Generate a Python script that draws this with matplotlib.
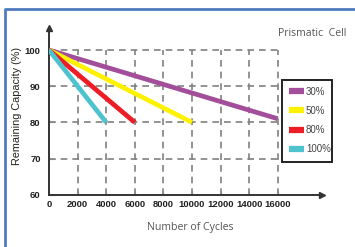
import numpy as np
import matplotlib
matplotlib.use("Agg")
import matplotlib.pyplot as plt
from matplotlib.lines import Line2D
from matplotlib.patches import Rectangle

# discharge depth series: start and end points (cycles, capacity %)
labels = ["30%", "50%", "80%", "100%"]
end_cycles = [16000, 10000, 6000, 4000]
end_capacity = [81, 80, 80, 80]
start_capacity = 100
colors = ["#a34e9a", "#fff200", "#ee1c25", "#4ec3d0"]

xticks = [0, 2000, 4000, 6000, 8000, 10000, 12000, 14000, 16000]
yticks = [60, 70, 80, 90, 100]

W, H = 355, 247
fig = plt.figure(figsize=(W / 100, H / 100), dpi=100)
plt.rcParams['font.family'] = ['Liberation Sans', 'DejaVu Sans']

# blue frame (top and left edges only visible)
fig.add_artist(Line2D([4.5 / W, 4.5 / W, 1.05], [-0.05, 1 - 9.5 / H, 1 - 9.5 / H],
                      transform=fig.transFigure, color="#4f7bbf", lw=2))

ax = fig.add_axes([49 / W, 1 - 194.7 / H, 272.7 / W, 166.7 / H])
xmax = 16000 * 272.7 / 228.7
ymax = 60 + 40 * 166.7 / 144.7
ax.set_xlim(0, xmax)
ax.set_ylim(60, ymax)

# dashed grid box
grid_kw = dict(color="#808080", lw=1.2, linestyles=(0, (4, 3)), zorder=1)
ax.hlines(yticks[1:], 0, 16000, **grid_kw)
ax.vlines(xticks[1:], 60, 100, **grid_kw)

for lab, xe, ye, c in zip(labels, end_cycles, end_capacity, colors):
    ax.plot([0, xe], [start_capacity, ye], color=c, lw=3.4, label=lab,
            solid_capstyle="butt", zorder=3)

for s in ["top", "right"]:
    ax.spines[s].set_visible(False)
for s in ["left", "bottom"]:
    ax.spines[s].set_color("#333333")
    ax.spines[s].set_linewidth(1.4)
ax.plot(1, 0, ">", color="#333333", ms=5, transform=ax.transAxes, clip_on=False)
ax.plot(0, 1, "^", color="#333333", ms=5, transform=ax.transAxes, clip_on=False)

ax.set_xticks(xticks)
ax.set_yticks(yticks)
ax.tick_params(axis="both", direction="in", length=4, width=0.8, color="#888888",
               labelsize=6.8, pad=6)
ax.tick_params(axis="x", length=3, pad=4)
for t in ax.get_xticklabels() + ax.get_yticklabels():
    t.set_fontweight("bold")
    t.set_color("#222222")

fig.text(312 / W, 1 - 33 / H, "Prismatic  Cell", ha="center", va="center",
         fontsize=7.6, color="#555555", family=["Open Sans", "DejaVu Sans"])
fig.text(190 / W, 1 - 227 / H, "Number of Cycles", ha="center", va="center",
         fontsize=7.6, color="#555555", family=["Open Sans", "DejaVu Sans"])
fig.text(17 / W, 1 - 106 / H, "Remaining Capacity (%)", ha="center", va="center",
         rotation=90, fontsize=7.8, color="#222222")

# legend box drawn separately so it can be narrow
ax.add_patch(Rectangle((281.7 / W, 1 - 161.7 / H), 50.3 / W, 81.7 / H,
                       transform=fig.transFigure, clip_on=False, facecolor="white",
                       edgecolor="#222222", lw=1.4, zorder=4))
leg = ax.legend(loc="upper left", bbox_to_anchor=(289 / W, 1 - 86.5 / H),
                bbox_transform=fig.transFigure, fontsize=7, frameon=False,
                handlelength=1.55, handletextpad=0.2, labelspacing=0.95,
                borderpad=0, borderaxespad=0)
leg.set_zorder(5)
for h in leg.legend_handles:
    h.set_linewidth(4.5)
for t in leg.get_texts():
    t.set_color("#444444")

fig.savefig("out.png", dpi=100)
